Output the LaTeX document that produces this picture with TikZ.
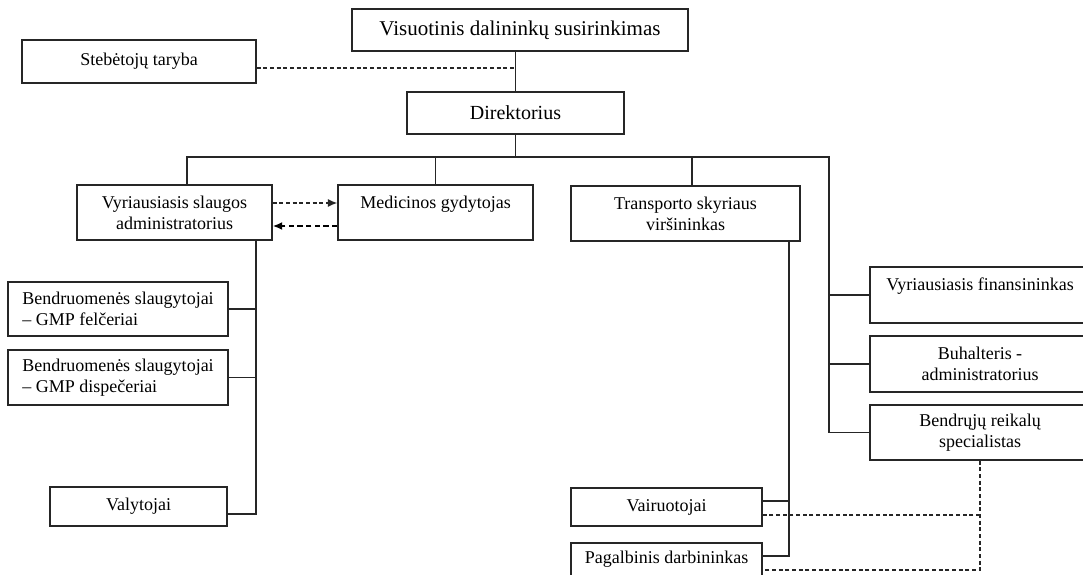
\documentclass[tikz,border=0pt]{standalone}
\usepackage{fontspec}
\setmainfont{Liberation Serif}
\usetikzlibrary{arrows.meta}
\def\pxu{0.75pt}
\begin{document}
\begin{tikzpicture}[x=0.75pt,y=-0.75pt,
  bx/.style n args={2}{draw=black!85, line width=1.1pt, inner sep=0pt,
    minimum width=#1*\pxu, minimum height=#2*\pxu, align=center,
    font=\fontsize{13.5}{15.75}\selectfont},
  ln/.style={draw=black!85, line width=1.1pt},
  dsh/.style={draw=black!85, line width=1pt, dash pattern=on 3pt off 2pt},
  dshb/.style={draw=black, line width=1.6pt, dash pattern=on 4pt off 2.5pt}]
\path[fill=white, use as bounding box] (0,0) rectangle (1083,575);

% boxes
\node[bx={336}{42}, font=\fontsize{15.75}{18}\selectfont] (vis) at (520,30) {Visuotinis dalininkų susirinkimas};
\node[bx={234}{43}] (steb) at (139,61.5) {Stebėtojų taryba};
\node[bx={217}{42}, font=\fontsize{15}{18}\selectfont] (dir) at (515.5,113) {Direktorius};
\node[bx={195}{55}] (vsa) at (174.5,212.5) {Vyriausiasis slaugos\\administratorius};
\node[bx={195}{55}] (med) at (435.5,212.5) {Medicinos gydytojas\\~};
\node[bx={229}{55}] (tra) at (685.5,213.5) {Transporto skyriaus\\viršininkas};
\node[bx={220}{54}, align=left] (bs1) at (118,309) {Bendruomenės slaugytojai\\– GMP felčeriai};
\node[bx={220}{55}, align=left] (bs2) at (118,377.5) {Bendruomenės slaugytojai\\– GMP dispečeriai};
\node[bx={177}{39}] (val) at (138.5,506.5) {Valytojai};
\node[bx={220}{56}] (vf) at (980,295) {Vyriausiasis finansininkas\\~};
\node[bx={220}{56}] (buh) at (980,364) {Buhalteris -\\administratorius};
\node[bx={220}{55}] (ben) at (980,432.5) {Bendrųjų reikalų\\specialistas};
\node[bx={191}{38}] (vai) at (666.5,507) {Vairuotojai};
\node[bx={191}{50}] (pag) at (666.5,568) {Pagalbinis darbininkas\\~};

% coordinates
\coordinate (s1) at (516,68);
\coordinate (bus) at (0,157);
\coordinate (bl) at (187,157);
\coordinate (br) at (829,157);
\coordinate (tc) at (692,157);
\coordinate (lv) at (256,240);
\coordinate (vc) at (256,514);
\coordinate (tv) at (789,241);
\coordinate (va1) at (789,501);
\coordinate (pa1) at (789,556);
\coordinate (d1) at (980,515);
\coordinate (d2) at (980,570);
\coordinate (a1) at (0,203);
\coordinate (a2) at (0,226);

% solid connectors
\draw[ln] (dir.north) -- (dir.north |- vis.south);
\draw[ln] (dir.south) -- (dir.south |- bus);
\draw[ln] (vsa.north -| bl) -- (bl) -- (br) -- (br |- ben.west);
\draw[ln] (med.north) -- (med.north |- bus);
\draw[ln] (tc) -- (tc |- tra.north);
\draw[ln] (br |- vf.west) -- (vf.west);
\draw[ln] (br |- buh.west) -- (buh.west);
\draw[ln] (br |- ben.west) -- (ben.west);
\draw[ln] (lv |- vsa.south) -- (vc) -- (vc -| val.east);
\draw[ln] (bs1.east) -- (lv |- bs1.east);
\draw[ln] (bs2.east) -- (lv |- bs2.east);
\draw[ln] (tv |- tra.south) -- (pa1) -- (pa1 -| pag.east);
\draw[ln] (va1) -- (va1 -| vai.east);

% dashed connectors
\draw[dsh] (steb.east |- s1) -- (s1);
\draw[dsh] (ben.south) -- (d2) -- (d2 -| pag.east);
\draw[dsh] (d1) -- (d1 -| vai.east);
\draw[dsh, -{Latex[length=7pt,width=6pt]}] (vsa.east |- a1) -- (med.west |- a1);
\draw[dshb, -{Latex[length=7pt,width=6pt]}] (med.west |- a2) -- (vsa.east |- a2);
\end{tikzpicture}
\end{document}
